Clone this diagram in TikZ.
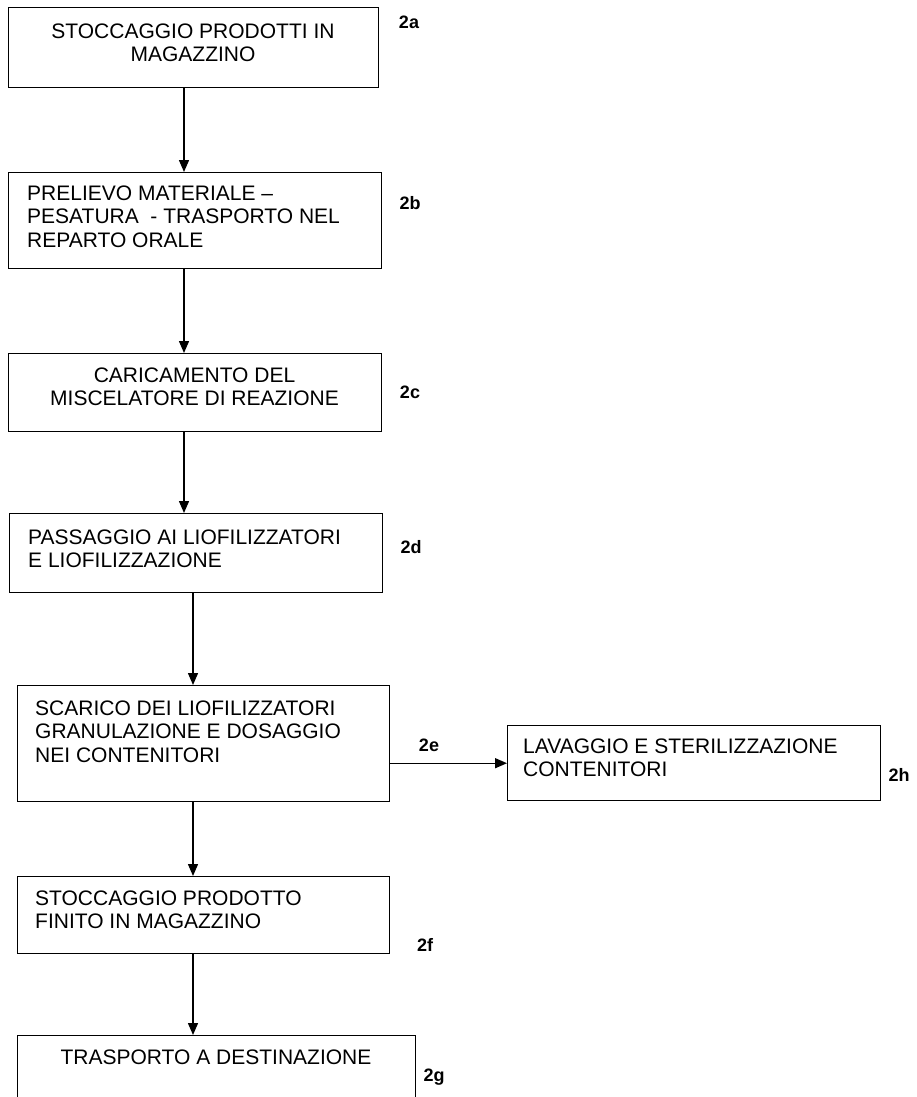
\documentclass[tikz,border=0pt]{standalone}
\usepackage{fontspec}
\setmainfont{Liberation Sans}
\usetikzlibrary{arrows.meta}
\begin{document}
\begin{tikzpicture}[x=1pt,y=-1pt,
  stepbox/.style={draw=black, line width=1.4pt, rectangle, inner sep=0pt, anchor=north west},
  boxtext/.style={inner sep=0pt, font=\fontsize{21}{23.5}\selectfont},
  lefttext/.style={boxtext, anchor=north west, align=left},
  midtext/.style={boxtext, anchor=north, align=center},
  steplabel/.style={inner sep=0pt, font=\bfseries\fontsize{18}{20}\selectfont},
  arr/.style={line width=1.4pt, -{Triangle[length=12pt,width=10pt]}}]
\useasboundingbox (0,0) rectangle (916,1097);

% process boxes
\node[stepbox, minimum width=370pt, minimum height=80pt] (a) at (8,7) {};
\node[stepbox, minimum width=373pt, minimum height=96pt] (b) at (8,172) {};
\node[stepbox, minimum width=373pt, minimum height=78pt] (c) at (8,353) {};
\node[stepbox, minimum width=373pt, minimum height=79pt] (d) at (9,513) {};
\node[stepbox, minimum width=372pt, minimum height=116pt] (e) at (17,685) {};
\node[stepbox, minimum width=372pt, minimum height=77pt] (f) at (17,876) {};
\node[stepbox, minimum width=398pt, minimum height=70pt] (g) at (17,1035) {};
\node[stepbox, minimum width=373pt, minimum height=75pt] (h) at (507,725) {};

% box texts
\node[midtext] (ta) at (193,23.5) {STOCCAGGIO PRODOTTI IN\\MAGAZZINO};
\node[lefttext] (tb) at (27,185.5) {PRELIEVO MATERIALE --\\PESATURA\ \ - TRASPORTO NEL\\REPARTO ORALE};
\node[midtext] (tc) at (194.5,367.5) {CARICAMENTO DEL\\MISCELATORE DI REAZIONE};
\node[lefttext] (td) at (28,529.5) {PASSAGGIO AI LIOFILIZZATORI\\E LIOFILIZZAZIONE};
\node[lefttext] (te) at (35,700.5) {SCARICO DEI LIOFILIZZATORI\\GRANULAZIONE E DOSAGGIO\\NEI CONTENITORI};
\node[lefttext] (tf) at (35,890.5) {STOCCAGGIO PRODOTTO\\FINITO IN MAGAZZINO};
\node[midtext] (tg) at (216,1049.5) {TRASPORTO A DESTINAZIONE};
\node[lefttext] (th) at (523,738.5) {LAVAGGIO E STERILIZZAZIONE\\CONTENITORI};

% step labels
\node[steplabel] (la) at (409,22) {2a};
\node[steplabel] (lb) at (410,203) {2b};
\node[steplabel] (lc) at (410,392) {2c};
\node[steplabel] (ld) at (411,547) {2d};
\node[steplabel] (le) at (429,745) {2e};
\node[steplabel] (lf) at (425,945) {2f};
\node[steplabel] (lg) at (434,1077) {2g};
\node[steplabel] (lh) at (899,775) {2h};

% arrow columns
\coordinate (colA) at (184,0);
\coordinate (colB) at (193,0);

% connectors
\draw[arr] (a.south -| colA) -- (b.north -| colA);
\draw[arr] (b.south -| colA) -- (c.north -| colA);
\draw[arr] (c.south -| colA) -- (d.north -| colA);
\draw[arr] (d.south -| colB) -- (e.north -| colB);
\draw[arr] (e.south -| colB) -- (f.north -| colB);
\draw[arr] (f.south -| colB) -- (g.north -| colB);
\draw[arr] (h.west -| e.east) -- (h.west);
\end{tikzpicture}
\end{document}
